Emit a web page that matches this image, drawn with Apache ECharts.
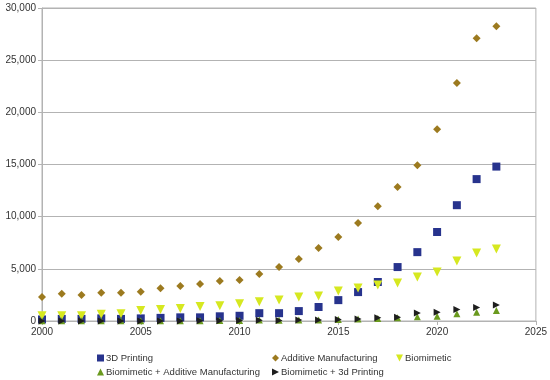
<!DOCTYPE html>
<html><head><meta charset="utf-8">
<script src="https://cdn.jsdelivr.net/npm/echarts@6/dist/echarts.min.js"></script>
<style>html,body{margin:0;padding:0;background:#fff}#c{width:550px;height:380px}</style>
</head><body><div id="c"></div>
<script>
const years = [2000,2001,2002,2003,2004,2005,2006,2007,2008,2009,2010,2011,2012,2013,2014,2015,2016,2017,2018,2019,2020,2021,2022,2023];
const printing3d = [150,200,200,250,200,250,300,350,350,450,500,750,750,950,1340,2000,2770,3740,5170,6600,8530,11100,13600,14800];
const additive = [2300,2600,2500,2700,2700,2800,3150,3350,3550,3830,3930,4500,5170,5940,7000,8050,9390,11010,12840,14940,18390,22800,27100,28260];
const biomimetic = [500,500,500,650,700,1000,1100,1200,1400,1450,1650,1850,2010,2300,2400,2870,3160,3450,3640,4210,4690,5750,6510,6900];
const bioAdditive = [20,20,20,20,20,20,30,30,30,40,50,100,80,100,100,150,200,250,300,400,450,700,850,1000];
const bio3d = [0,0,0,0,0,0,10,10,20,30,40,80,50,100,100,150,200,300,350,760,850,1100,1300,1530];
const xTicks = [2000,2005,2010,2015,2020,2025];
const yTicks = [0,5000,10000,15000,20000,25000,30000];

const names = ['3D Printing','Additive Manufacturing','Biomimetic','Biomimetic + Additive Manufacturing','Biomimetic + 3d Printing'];
const colors = ['#27338d','#9c7a1f','#d6e820','#6a9a1e','#1e1e1e'];
const symbols = ['rect','diamond','triangle','triangle','triangle'];
const rotates = [0,0,180,0,-90];
const sizes = [8,8,9,7,7];
const datasets = [printing3d, additive, biomimetic, bioAdditive, bio3d];
const font = 'Liberation Sans, Arial, sans-serif';

const series = names.map((n,i)=>({
  name:n, type:'scatter', symbol:symbols[i], symbolRotate:rotates[i], symbolSize:sizes[i],
  itemStyle:{color:colors[i], opacity:1},
  emphasis:{disabled:true},
  data: years.map((y,j)=>[y, datasets[i][j]])
}));

const legendPos = [[97,353],[272,353],[396,353],[97,367],[272,367]];
const icons = ['rect','diamond','path://M0,0 L10,0 L5,10 Z','triangle','path://M0,0 L10,5 L0,10 Z'];
const legends = names.map((n,i)=>({
  data:[{name:n, icon: icons[i], itemStyle:{color:colors[i], opacity:1}}],
  left:legendPos[i][0], top:legendPos[i][1], itemWidth:7, itemHeight:7, itemGap:2,
  padding:0,
  textStyle:{fontSize:9.5, color:'#333', fontFamily:font, padding:[0,0,0,-3]},
  selectedMode:false
}));

const chart = echarts.init(document.getElementById('c'), null, {renderer:'canvas'});
chart.setOption({
  animation:false,
  grid:{left:42, right:13, top:8, bottom:59, show:true, borderColor:'#b3b3b3', borderWidth:1},
  legend: legends,
  xAxis:{type:'value', min:2000, max:2025, interval:5,
    axisLine:{lineStyle:{color:'#b3b3b3'}}, axisTick:{show:true, length:4, lineStyle:{color:'#b3b3b3'}},
    splitLine:{show:false},
    axisLabel:{fontSize:10, color:'#333', fontFamily:font, formatter:v=>String(v), margin:6}},
  yAxis:{type:'value', min:0, max:30000, interval:5000,
    axisLine:{show:true, lineStyle:{color:'#b3b3b3'}}, axisTick:{show:true, length:4, lineStyle:{color:'#b3b3b3'}},
    splitLine:{show:true, lineStyle:{color:'#b3b3b3'}},
    axisLabel:{fontSize:10, color:'#333', fontFamily:font, margin:6,
      formatter:v=>v.toLocaleString('en-US')}},
  series: series
});
</script></body></html>
